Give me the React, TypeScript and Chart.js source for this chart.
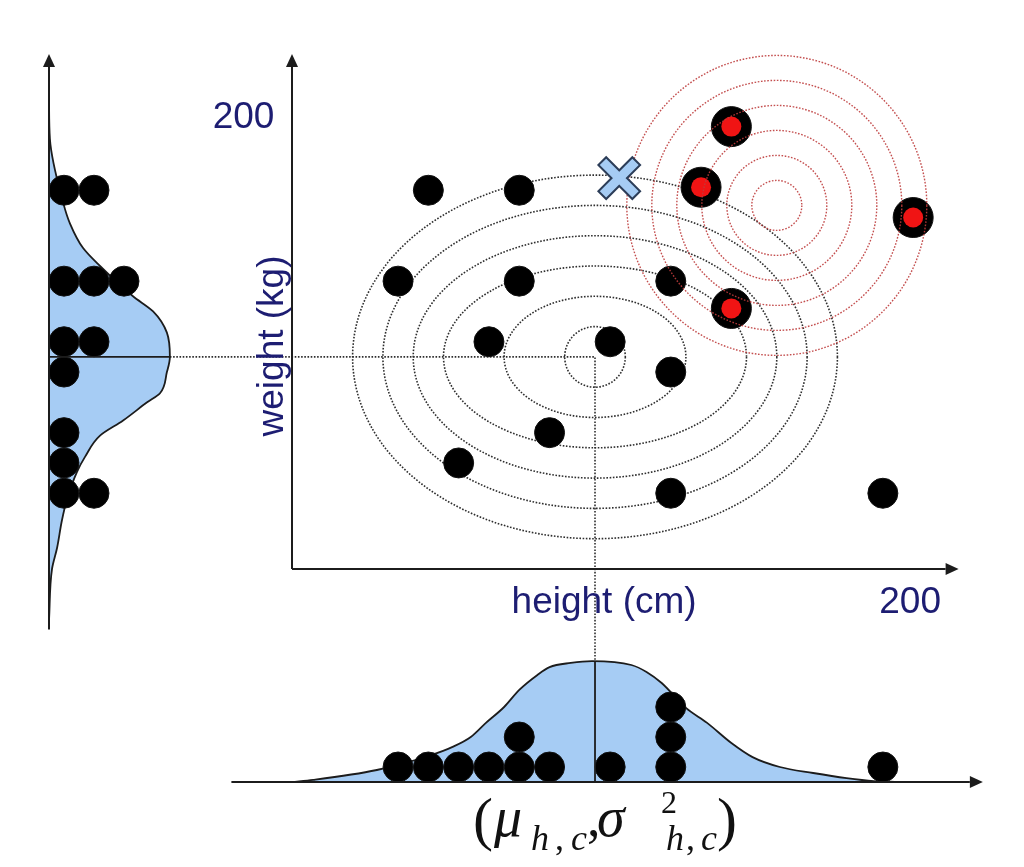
import React, { useEffect, useRef } from "react";
import { Chart, registerables } from "chart.js";

Chart.register(...registerables);

// ---------------- data ----------------
// class c samples (black dots): height and weight
const heights = [45, 75, 35, 75, 125, 65, 105, 125, 85, 55, 125, 195];
const weights = [125, 125, 95, 95, 95, 75, 75, 65, 45, 35, 25, 25];
// other class samples (black dots with red centre)
const otherHeights = [145, 135, 205, 145];
const otherWeights = [146, 126, 116, 86];
// gaussian of class c
const meanHeight = 100;
const meanWeight = 70;
const ellipseHalfHeights = [10, 30, 50, 60, 70, 80];
const ellipseHalfWeights = [10, 20, 30, 40, 50, 60];
// gaussian of other class
const otherMeanHeight = 160;
const otherMeanWeight = 120;
const otherRadii = [8.25, 16.5, 24.75, 33, 41.25, 49.5];
// query point (cross)
const queryHeight = 108;
const queryWeight = 129;
// marginal density of height (in dot-count units)
const heightDensityX = [0, 7, 28, 46, 53, 59, 64, 70, 75, 81, 85, 92, 99, 112, 117, 122, 130, 137, 145, 152, 161, 172, 183, 192, 200];
const heightDensityY = [0, 0.07, 0.4, 0.9, 1.17, 1.5, 1.97, 2.5, 3.07, 3.57, 3.83, 3.97, 4.03, 3.9, 3.67, 3.3, 2.47, 1.97, 1.3, 0.83, 0.5, 0.3, 0.13, 0.03, 0];
// marginal density of weight (in dot-count units)
const weightDensityW = [-17, 0, 7, 16, 23, 32, 37, 44, 49, 55, 58, 65, 70, 78, 85, 90, 100, 106, 114, 121, 142, 155];
const weightDensityC = [0, 0.1, 0.27, 0.43, 0.6, 0.93, 1.2, 1.7, 2.47, 3.27, 3.7, 3.93, 4.03, 3.93, 3.47, 2.8, 1.7, 1.13, 0.7, 0.47, 0.03, 0];
// texts
const yTickLabel = "200";
const xTickLabel = "200";
const xAxisTitle = "height (cm)";
const yAxisTitle = "weight (kg)";

// ---------------- layout / scale ranges ----------------
const X_MIN = -96.37, X_MAX = 241.58; // height units over the full canvas width
const Y_MIN = -98.35, Y_MAX = 187.79; // weight units over the full canvas height
const XC_MIN = -1.6333, XC_MAX = 32.5; // count units for the weight marginal
const YC_MIN = -2.8333, YC_MAX = 26.0667; // count units for the height marginal
const AXIS_X_END = 220;
const AXIS_Y_END = 170;
const BOTTOM_AXIS = [-20, 228];
const LEFT_AXIS = [-20, 170];

const BLUE = "#a6ccf4";
const INK = "#1c1c1c";
const NAVY = "#1d1d72";

function stackIndex(values: number[]): number[] {
  const seen = new Map<number, number>();
  return values.map((v) => {
    const k = seen.get(v) || 0;
    seen.set(v, k + 1);
    return k + 0.5;
  });
}

function arrowLine(ctx: CanvasRenderingContext2D, x1: number, y1: number, x2: number, y2: number) {
  const ang = Math.atan2(y2 - y1, x2 - x1);
  const len = 13, hw = 6;
  const bx = x2 - Math.cos(ang) * len, by = y2 - Math.sin(ang) * len;
  ctx.beginPath();
  ctx.moveTo(x1, y1);
  ctx.lineTo(bx, by);
  ctx.stroke();
  ctx.beginPath();
  ctx.moveTo(x2, y2);
  ctx.lineTo(bx + Math.sin(ang) * hw, by - Math.cos(ang) * hw);
  ctx.lineTo(bx - Math.sin(ang) * hw, by + Math.cos(ang) * hw);
  ctx.closePath();
  ctx.fill();
}

const peakH = Math.max(...heightDensityY);
const peakW = Math.max(...weightDensityC);

const decor = {
  id: "decor",
  beforeDatasetsDraw(chart: any) {
    const { ctx } = chart;
    const { x, y, xc, yc } = chart.scales;
    ctx.save();
    // class c ellipses
    ctx.setLineDash([1.6, 1.6]);
    ctx.lineWidth = 1.6;
    ctx.strokeStyle = "#2e2e2e";
    const cx = x.getPixelForValue(meanHeight), cy = y.getPixelForValue(meanWeight);
    ellipseHalfHeights.forEach((rh, i) => {
      const rx = Math.abs(x.getPixelForValue(meanHeight + rh) - cx);
      const ry = Math.abs(y.getPixelForValue(meanWeight + ellipseHalfWeights[i]) - cy);
      ctx.beginPath();
      ctx.ellipse(cx, cy, rx, ry, 0, 0, Math.PI * 2);
      ctx.stroke();
    });
    // connectors
    ctx.beginPath();
    ctx.moveTo(xc.getPixelForValue(peakW), cy);
    ctx.lineTo(cx, cy);
    ctx.lineTo(cx, yc.getPixelForValue(peakH));
    ctx.stroke();
    ctx.restore();
  },
  afterDatasetDraw(chart: any, args: any) {
    const ds = chart.data.datasets[args.index];
    if (ds.label !== "otherCentres") return;
    const { ctx } = chart;
    const { x, y } = chart.scales;
    ctx.save();
    ctx.setLineDash([1.6, 1.6]);
    ctx.lineWidth = 1.4;
    ctx.strokeStyle = "rgba(190,60,60,0.9)";
    const cx = x.getPixelForValue(otherMeanHeight), cy = y.getPixelForValue(otherMeanWeight);
    otherRadii.forEach((r) => {
      const rp = Math.abs(x.getPixelForValue(otherMeanHeight + r) - cx);
      ctx.beginPath();
      ctx.arc(cx, cy, rp, 0, Math.PI * 2);
      ctx.stroke();
    });
    ctx.restore();
  },
  afterDatasetsDraw(chart: any) {
    const { ctx } = chart;
    const { x, y, xc, yc } = chart.scales;
    ctx.save();
    ctx.strokeStyle = INK;
    ctx.fillStyle = INK;
    ctx.lineWidth = 2;
    // main axes
    arrowLine(ctx, x.getPixelForValue(0), y.getPixelForValue(0), x.getPixelForValue(0), y.getPixelForValue(AXIS_Y_END));
    arrowLine(ctx, x.getPixelForValue(0), y.getPixelForValue(0), x.getPixelForValue(AXIS_X_END), y.getPixelForValue(0));
    // bottom marginal axis
    arrowLine(ctx, x.getPixelForValue(BOTTOM_AXIS[0]), yc.getPixelForValue(0), x.getPixelForValue(BOTTOM_AXIS[1]), yc.getPixelForValue(0));
    // left marginal axis
    arrowLine(ctx, xc.getPixelForValue(0), y.getPixelForValue(LEFT_AXIS[0]), xc.getPixelForValue(0), y.getPixelForValue(LEFT_AXIS[1]));
    ctx.restore();
  },
  afterDraw(chart: any) {
    const { ctx } = chart;
    const { x, y, yc } = chart.scales;
    ctx.save();
    ctx.fillStyle = NAVY;
    ctx.font = '37px "Liberation Sans", Arial, sans-serif';
    ctx.textAlign = "center";
    ctx.textBaseline = "alphabetic";
    ctx.fillText(yTickLabel, x.getPixelForValue(-16), y.getPixelForValue(145.5));
    ctx.fillText(xTickLabel, x.getPixelForValue(204), y.getPixelForValue(-14.5));
    ctx.fillText(xAxisTitle, x.getPixelForValue(103), y.getPixelForValue(-14.5));
    ctx.save();
    ctx.translate(x.getPixelForValue(-3), y.getPixelForValue(73.6));
    ctx.rotate(-Math.PI / 2);
    ctx.fillText(yAxisTitle, 0, 0);
    ctx.restore();

    // formula (mu_{h,c}, sigma^2_{h,c})
    const x0 = x.getPixelForValue(meanHeight) - 122;
    const b0 = yc.getPixelForValue(-1.8);
    const serif = '"Liberation Serif", "DejaVu Serif", serif';
    ctx.fillStyle = "#111";
    ctx.textAlign = "left";
    const put = (t: string, dx: number, dy: number, font: string) => {
      ctx.font = font;
      ctx.fillText(t, x0 + dx, b0 + dy);
    };
    put("(", 0, 3, `60px ${serif}`);
    put("μ", 21, 0, `italic 56px ${serif}`);
    put("h", 58, 14, `italic 36px ${serif}`);
    put(",", 82, 14, `36px ${serif}`);
    put("c", 98, 14, `italic 36px ${serif}`);
    put(",", 114, 0, `54px ${serif}`);
    put("σ", 124, 0, `italic 56px ${serif}`);
    put("2", 188, -23, `32px ${serif}`);
    put("h", 193, 14, `italic 36px ${serif}`);
    put(",", 213, 14, `36px ${serif}`);
    put("c", 228, 14, `italic 36px ${serif}`);
    put(")", 244, 3, `60px ${serif}`);
    ctx.restore();
  },
};

export default function App() {
  const ref = useRef<HTMLCanvasElement>(null);
  useEffect(() => {
    const canvas = ref.current;
    if (!canvas) return;
    const dot = {
      pointRadius: 15,
      pointHoverRadius: 15,
      pointBackgroundColor: "#000",
      pointBorderColor: "#111",
      pointBorderWidth: 1,
      showLine: false,
    };
    const hStack = stackIndex(heights);
    const wStack = stackIndex(weights);
    const chart = new Chart(canvas, {
      type: "scatter",
      data: {
        datasets: [
          {
            type: "line",
            label: "heightDensity",
            xAxisID: "x",
            yAxisID: "yc",
            data: heightDensityX.map((h, i) => ({ x: h, y: heightDensityY[i] })),
            fill: "origin",
            backgroundColor: BLUE,
            borderColor: INK,
            borderWidth: 1.8,
            pointRadius: 0,
            cubicInterpolationMode: "monotone",
            order: 20,
          } as any,
          {
            type: "line",
            label: "weightDensity",
            indexAxis: "y",
            xAxisID: "xc",
            yAxisID: "y",
            data: weightDensityW.map((w, i) => ({ x: weightDensityC[i], y: w })),
            fill: "origin",
            backgroundColor: BLUE,
            borderColor: INK,
            borderWidth: 1.8,
            pointRadius: 0,
            cubicInterpolationMode: "monotone",
            order: 20,
          } as any,
          {
            label: "samples",
            xAxisID: "x",
            yAxisID: "y",
            data: heights.map((h, i) => ({ x: h, y: weights[i] })),
            ...dot,
            order: 10,
          } as any,
          {
            label: "heightDots",
            xAxisID: "x",
            yAxisID: "yc",
            data: heights.map((h, i) => ({ x: h, y: hStack[i] })),
            ...dot,
            order: 10,
          } as any,
          {
            label: "weightDots",
            xAxisID: "xc",
            yAxisID: "y",
            data: weights.map((w, i) => ({ x: wStack[i], y: w })),
            ...dot,
            order: 10,
          } as any,
          {
            type: "line",
            label: "heightMean",
            xAxisID: "x",
            yAxisID: "yc",
            data: [{ x: meanHeight, y: 0 }, { x: meanHeight, y: peakH }],
            borderColor: INK,
            borderWidth: 1.8,
            pointRadius: 0,
            fill: false,
            order: 9,
          } as any,
          {
            type: "line",
            label: "weightMean",
            xAxisID: "xc",
            yAxisID: "y",
            data: [{ x: 0, y: meanWeight }, { x: peakW, y: meanWeight }],
            borderColor: INK,
            borderWidth: 1.8,
            pointRadius: 0,
            fill: false,
            order: 9,
          } as any,
          {
            label: "otherSamples",
            xAxisID: "x",
            yAxisID: "y",
            data: otherHeights.map((h, i) => ({ x: h, y: otherWeights[i] })),
            ...dot,
            pointRadius: 20,
            pointHoverRadius: 20,
            order: 8,
          } as any,
          {
            label: "otherCentres",
            xAxisID: "x",
            yAxisID: "y",
            data: otherHeights.map((h, i) => ({ x: h, y: otherWeights[i] })),
            pointRadius: 10,
            pointHoverRadius: 10,
            pointBackgroundColor: "#f01414",
            pointBorderColor: "#e01010",
            pointBorderWidth: 0,
            showLine: false,
            order: 7,
          } as any,
          {
            label: "queryOutline",
            xAxisID: "x",
            yAxisID: "y",
            data: [{ x: queryHeight, y: queryWeight }],
            pointStyle: "crossRot",
            pointRadius: 25,
            pointHoverRadius: 25,
            pointBorderWidth: 13,
            pointBorderColor: "#2c3d58",
            showLine: false,
            order: 3,
          } as any,
          {
            label: "query",
            xAxisID: "x",
            yAxisID: "y",
            data: [{ x: queryHeight, y: queryWeight }],
            pointStyle: "crossRot",
            pointRadius: 23,
            pointHoverRadius: 23,
            pointBorderWidth: 9,
            pointBorderColor: BLUE,
            showLine: false,
            order: 2,
          } as any,
        ],
      },
      options: {
        responsive: false,
        maintainAspectRatio: false,
        animation: false,
        events: [],
        layout: { padding: 0, autoPadding: false },
        plugins: { legend: { display: false }, tooltip: { enabled: false } },
        scales: {
          x: { type: "linear", axis: "x", min: X_MIN, max: X_MAX, display: false, bounds: "data" },
          y: { type: "linear", axis: "y", min: Y_MIN, max: Y_MAX, display: false, bounds: "data" },
          xc: { type: "linear", axis: "x", min: XC_MIN, max: XC_MAX, display: false, bounds: "data" },
          yc: { type: "linear", axis: "y", min: YC_MIN, max: YC_MAX, display: false, bounds: "data" },
        } as any,
      },
      plugins: [decor],
    } as any);
    return () => chart.destroy();
  }, []);
  return (
    <div style={{ position: "absolute", left: 0, top: 0, width: 1024, height: 867, background: "#fff" }}>
      <canvas ref={ref} width={1024} height={867} style={{ display: "block" }} />
    </div>
  );
}
